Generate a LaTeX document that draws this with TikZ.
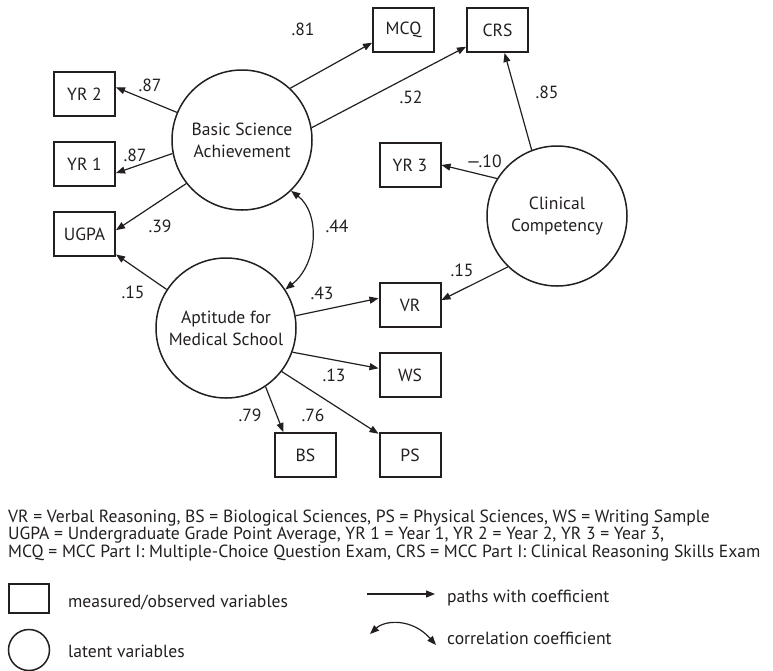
\documentclass[tikz,border=0pt]{standalone}
\usepackage{fontspec}
\setmainfont{PT Sans}
\usetikzlibrary{arrows.meta,calc}
\definecolor{ink}{RGB}{35,31,32}
\begin{document}
\begin{tikzpicture}[x=1pt,y=-1pt,
  every node/.style={text=ink, font=\fontsize{17.6}{21.7}\selectfont},
  obs/.style={draw=ink, line width=2pt, minimum width=61pt, minimum height=44pt, inner sep=0pt},
  lat/.style={draw=ink, line width=1.5pt, circle, minimum size=140pt, inner sep=0pt, align=center},
  pathc/.style={draw=ink, line width=1.2pt, -{Triangle[length=9pt,width=7pt]}},
  corr/.style={draw=ink, line width=1.2pt, {Triangle[length=9pt,width=7pt]}-{Triangle[length=9pt,width=7pt]}},
  coef/.style={inner sep=0pt},
  note/.style={anchor=base west, inner sep=0pt}
]
\useasboundingbox (0,0) rectangle (773,670);

% measured variables
\node[obs] (YR2)  at (84.5,94)  {YR 2};
\node[obs] (YR1)  at (84.5,164) {YR 1};
\node[obs] (UGPA) at (84.5,234) {UGPA};
\node[obs] (MCQ)  at (403.5,30) {MCQ};
\node[obs] (CRS)  at (497.5,30) {CRS};
\node[obs] (YR3)  at (410,165)  {YR 3};
\node[obs] (VR)   at (410,305)  {VR};
\node[obs] (WS)   at (410,375)  {WS};
\node[obs] (PS)   at (410,455)  {PS};
\node[obs] (BS)   at (305.5,455) {BS};

% latent variables
\node[lat] (BSA) at (242,140) {Basic Science\\Achievement};
\node[lat] (CC)  at (557,216) {Clinical\\Competency};
\node[lat] (AMS) at (226,328) {Aptitude for\\Medical School};

% paths
\draw[pathc] (BSA.157) -- (YR2.12);
\draw[pathc] (BSA.191) -- (YR1.344);
\draw[pathc] (BSA.218) -- (UGPA.7);
\draw[pathc] (BSA.47)  -- (MCQ.202);
\draw[pathc] (BSA.10)  -- (CRS.208);
\draw[pathc] (CC.111)  -- (CRS.287);
\draw[pathc] (CC.148)  -- (YR3.east);
\draw[pathc] (CC.226)  -- (VR.9);
\draw[pathc] (AMS.147) -- (UGPA.327);
\draw[pathc] (AMS.10)  -- (VR.168);
\draw[pathc] (AMS.340) -- (WS.168);
\draw[pathc] (AMS.304) -- (BS.134);
\draw[pathc] (AMS.322) -- (PS.146);

% correlation
\draw[corr] (BSA.314) .. controls ($(BSA.314)+(29,22)$) and ($(AMS.33)+(33,-26)$) .. (AMS.33);

% coefficients
\node[coef] (c1)  at (303,29)  {.81};
\node[coef] (c2)  at (150,85)  {.87};
\node[coef] (c3)  at (135,155) {.87};
\node[coef] (c4)  at (160,226) {.39};
\node[coef] (c5)  at (337,226) {.44};
\node[coef] (c6)  at (133,292) {.15};
\node[coef] (c7)  at (322,293) {.43};
\node[coef] (c8)  at (411,97)  {.52};
\node[coef] (c9)  at (547,92)  {.85};
\node[coef] (c10) at (484,161) {—.10};
\node[coef] (c11) at (462,270) {.15};
\node[coef] (c12) at (334,375) {.13};
\node[coef] (c13) at (250,415) {.79};
\node[coef] (c14) at (313,415) {.76};

% abbreviations
\node[note] (n1) at (8,522)   {VR = Verbal Reasoning, BS = Biological Sciences, PS = Physical Sciences, WS = Writing Sample};
\node[note] (n2) at (8,539.5) {UGPA = Undergraduate Grade Point Average, YR 1 = Year 1, YR 2 = Year 2, YR 3 = Year 3,};
\node[note] (n3) at (8,557)   {MCQ = MCC Part I: Multiple-Choice Question Exam, CRS = MCC Part I: Clinical Reasoning Skills Exam};

% key
\node[draw=ink, line width=1.5pt, minimum width=40pt, minimum height=29pt, inner sep=0pt] (ksq) at (29,598.5) {};
\node[draw=ink, line width=1.5pt, circle, minimum size=41pt, inner sep=0pt] (kci) at (29,650) {};
\node[note] (k1) at (68,607) {measured/observed variables};
\node[note] (k2) at (68,657) {latent variables};
\coordinate (la1) at (367,594);
\coordinate (la2) at (435,594);
\draw[pathc] (la1) -- (la2);
\coordinate (lc1) at (370,634);
\coordinate (lc2) at (436,645);
\draw[corr] (lc1) .. controls (385,620) and (412,618) .. (lc2);
\node[note] (k3) at (447,602) {paths with coefficient};
\node[note] (k4) at (447,644) {correlation coefficient};
\end{tikzpicture}
\end{document}
